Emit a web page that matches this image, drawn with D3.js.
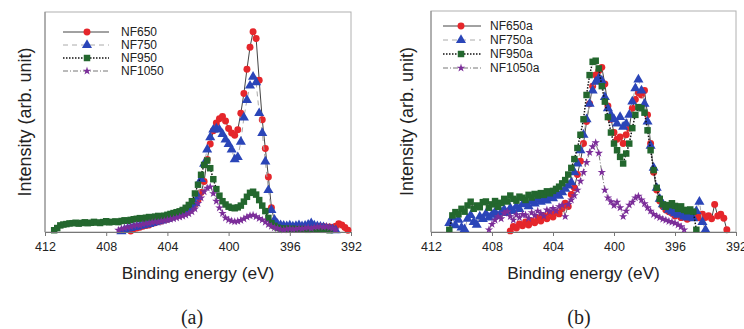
<!DOCTYPE html>
<html>
<head>
<meta charset="utf-8">
<script src="https://cdn.jsdelivr.net/npm/d3@7"></script>
<style>
  body { margin: 0; background: #fff; }
  svg { display: block; }
  text { font-family: "Liberation Sans", Arial, sans-serif; fill: #222; }
</style>
</head>
<body>
<svg id="chart" width="744" height="329"></svg>
<script>
// energy grid step (eV) shared by every series
const STEP = 0.2;
const xTicks = [412, 408, 404, 400, 396, 392];

// panel (a)
const namesA = ['NF650', 'NF750', 'NF950', 'NF1050'];
const startA = [406.4, 407.0, 411.4, 407.2];
const nf650 = [0.5,1.5,1.8,2.2,2.6,3.0,3.2,3.8,4.2,4.8, 5.0,5.6,5.8,6.4,7.0,7.6,8.4,8.8,9.6,10.4,
  11.2,12.5,14.5,18,23,33,40,46,49.5,51.5, 52.5,50.5,47,45,44,46.5,54,63,74,84,
  91,88,69,51,38,25,11,5,3.2,2.6, 2.2,2.4,2.0,2.3,2.6,2.2,2.5,2.1,2.4,2.7,
  2.3,2.6,2.2,2.5,2.0,2.3,2.0,2.6,3.8,3.2, 2.0,0.8];
const nf750 = [0.3,1.0,1.5,1.8,2.2,2.4,2.8,3.0,3.4,3.6, 4.0,4.4,4.8,5.2,5.6,6.0,6.6,7.2,7.8,8.4,
  9.0,9.8,10.6,11.6,13,16,24,31,37.5,43, 46.5,47,46.5,44.5,42,40,37.5,33,34,41,
  52,60,66.5,70.5,68,54,45,32,19,10, 5.5,3.6,3.0,2.8,2.6,2.9,2.5,2.7,3.0,2.6,
  2.8,3.3,3.9,2.9,2.6,2.4,2.1,1.8,1.5,1.2, 0.8];
const nf950 = [0.8,1.8,3.0,3.4,3.6,3.9,4.0,4.2,3.8,4.1, 4.4,4.0,4.2,4.6,4.3,4.1,4.5,4.9,4.4,4.6,
  4.8,4.5,5.0,5.3,5.1,5.5,5.8,6.0,6.3,6.1, 6.5,6.8,6.6,7.0,7.3,7.1,7.4,7.8,8.2,8.6,
  9.0,9.4,10.0,11.0,12.3,14,17.5,21.5,26,30.5, 32.5,29,24,19.5,16.5,14,12.5,11.5,11.0,10.8,
  11.2,12.0,13.8,16,17.8,18.3,17,14.5,12,9.5, 6.4,4.0,2.8,2.0,1.6,1.4,1.6,1.2,1.5,1.3,
  1.1,1.4,1.2,1.0,1.3,1.1,1.4,1.2,1.0,1.2, 0.8];
const nf1050 = [0.8,1.4,1.8,2.2,2.4,2.8,3.2,3.0,3.5,3.8, 4.0,4.3,4.6,4.5,4.9,5.2,5.5,5.8,6.1,6.4,
  6.8,7.2,7.7,8.3,9.2,10.5,13,15.5,18.3,20, 20.5,17.5,14,11,8.5,6.4,5.5,5.0,4.7,4.9,
  5.3,6.0,6.8,7.4,7.7,7.0,6.2,5.5,4.5,3.4, 2.6,2.0,1.6,1.2,1.0,1.3,1.5,1.2,1.4,1.7,
  1.5,1.8,2.0,1.6,2.1,2.3,2.5,2.2,2.4,2.0, 1.6,1.0];

// panel (b)
const namesB = ['NF650a', 'NF750a', 'NF950a', 'NF1050a'];
const startB = [406.8, 410.8, 410.8, 408.2];
const nf650a = [0.5,2.5,1.8,3.6,2.8,4.5,3.2,5.0,4.2,6.5, 5.0,7.2,6.0,8.5,6.8,9.0,8.2,10.5,13,11.5,
  17,20,26,32,40,50,58,66,71,73, 74.5,67,57,51,45,42,43,40,44,47,
  56,60,63,62,64,53,40,27,19,14, 11.5,10,9.2,8.5,7.2,7.8,6.5,7.0,5.8,6.4,
  6.8,7.6,6.4,8.0,6.6,7.4,6.0,12.5,7.2,8.0, 6.2,1.0];
const nf750a = [4.0,6.5,3.0,5.5,2.0,1.2,6.0,7.6,4.5,3.2, 7.0,5.8,8.2,6.5,7.8,9.0,7.2,8.8,10.2,8.6,
  10.8,9.5,11.6,10.4,12.5,13,11.6,14,12.8,14.8, 13.6,15.2,14.2,16,15.2,17,16.4,18,19.5,21,
  22.5,27,31,37,44,51,58,64,68,69.5, 68.5,61,56,53,51,49,52,47.6,49,53,
  59,65,69,64,58,50,39,29,20,15, 12.5,11.4,10,9.2,8.5,7.8,8.6,7.0,6.5,7.8,
  6.2,9.5,13.7,4.5,1.0];
const nf950a = [1.0,7.5,9.0,8.0,10.5,9.2,12.0,13.7,10.5,12.0, 11.2,13.5,13.8,11.0,12.5,14.0,11.4,13.2,15.0,13.8,
  16.5,15.0,14.2,16.0,15.5,14.5,16.8,15.6,17.2,16.5, 17.6,16.8,18.4,17.5,18.6,19.5,20.5,22,23.5,26,
  29,33,38,44,51,62,71,77,77.5,74, 66,59,52,45,40,37,34,31,35.5,40,
  47,53,56.5,56,54,46,37,28,20,15, 12.5,11.4,12.2,13,11.8,10.5,11.6,10,9.4,10.2,
  9.2,1.0];
const nf1050a = [1.0,3.5,5.4,7.0,6.0,8.5,9.2,7.0,5.4,7.8, 6.5,8.0,7.7,6.2,8.8,7.5,9.5,8.4,7.2,10.0,
  9.2,10.7,9.5,11.5,12.2,7.0,12.5,14.5,16.5,19, 23,27,31.5,36,38.6,40.4,35.7,27,19,15.5,
  13.7,12.0,13.5,11.0,7.0,9.5,12.2,13.5,15.5,16.2, 14.5,12.8,11.0,9.5,8.0,7.2,6.5,5.8,5.4,4.8,
  4.5,4.0,3.2,2.4,1.0];

const valuesA = [nf650, nf750, nf950, nf1050];
const valuesB = [nf650a, nf750a, nf950a, nf1050a];

// marker + line style per series position
const styles = [
  { fill: '#e5262b', symbol: d3.symbolCircle, size: 38, stroke: '#444', dash: null, width: 1 },
  { fill: '#2a45b8', symbol: d3.symbolTriangle, size: 44, stroke: '#aaa', dash: '5,4', width: 1 },
  { fill: '#23672e', symbol: d3.symbolSquare, size: 42, stroke: '#111', dash: '1.5,1.5', width: 1.5 },
  { fill: '#7b2d99', symbol: d3.symbolStar, size: 22, stroke: '#777', dash: '5,2,1,2', width: 1 }
];

const svg = d3.select('#chart');

function toPoints(start, vals) {
  return vals.map((v, i) => ({ e: start - i * STEP, v }));
}

function drawPanel(cfg) {
  const x = d3.scaleLinear().domain([412, 392]).range([cfg.left, cfg.right]);
  const y = d3.scaleLinear().domain([0, 100]).range([cfg.bottom, cfg.top]);
  const g = svg.append('g');

  // frame
  g.append('rect')
    .attr('x', cfg.left).attr('y', cfg.top)
    .attr('width', cfg.right - cfg.left).attr('height', cfg.bottom - cfg.top)
    .attr('fill', 'none').attr('stroke', '#b0b0b0').attr('stroke-width', 1);

  // series
  cfg.values.forEach((vals, k) => {
    const st = styles[k];
    const pts = toPoints(cfg.starts[k], vals);
    const line = d3.line().x(d => x(d.e)).y(d => y(d.v));
    g.append('path')
      .datum(pts)
      .attr('fill', 'none')
      .attr('stroke', st.stroke)
      .attr('stroke-width', st.width)
      .attr('stroke-dasharray', st.dash)
      .attr('d', line);
    g.selectAll(null)
      .data(pts)
      .join('path')
      .attr('transform', d => `translate(${x(d.e)},${y(d.v)})`)
      .attr('d', d3.symbol(st.symbol, st.size))
      .attr('fill', st.fill);
  });

  // x axis
  g.append('g')
    .attr('transform', `translate(0,${cfg.bottom})`)
    .call(d3.axisBottom(x).tickValues(xTicks).tickSize(4).tickPadding(6).tickFormat(d3.format('d')))
    .call(a => a.select('.domain').attr('stroke', '#777'))
    .call(a => a.selectAll('line').attr('stroke', '#777'))
    .call(a => a.selectAll('text')
      .attr('font-size', '12.5px')
      .attr('font-family', '"Liberation Sans", Arial, sans-serif')
      .attr('fill', '#222'));

  // left axis line
  g.append('line')
    .attr('x1', cfg.left).attr('x2', cfg.left)
    .attr('y1', cfg.top).attr('y2', cfg.bottom)
    .attr('stroke', '#888');

  // titles
  g.append('text')
    .attr('x', (cfg.left + cfg.right) / 2)
    .attr('y', 279)
    .attr('text-anchor', 'middle')
    .attr('font-size', '17.3px')
    .text('Binding energy (eV)');

  g.append('text')
    .attr('transform', `translate(${cfg.ytitleX},${(cfg.top + cfg.bottom) / 2}) rotate(-90)`)
    .attr('text-anchor', 'middle')
    .attr('dy', '0.35em')
    .attr('font-size', '18px')
    .text('Intensity (arb. unit)');

  g.append('text')
    .attr('x', cfg.labelX)
    .attr('y', 324)
    .attr('text-anchor', 'middle')
    .attr('font-size', '20px')
    .style('font-family', '"Liberation Serif", "Times New Roman", serif')
    .text(cfg.label);

  // legend
  const lg = cfg.legend;
  cfg.names.forEach((name, k) => {
    const st = styles[k];
    const yy = lg.y0 + k * lg.dy;
    g.append('line')
      .attr('x1', lg.x1).attr('x2', lg.x2)
      .attr('y1', yy).attr('y2', yy)
      .attr('stroke', st.stroke)
      .attr('stroke-width', st.width)
      .attr('stroke-dasharray', st.dash);
    g.append('path')
      .attr('transform', `translate(${lg.xm},${yy})`)
      .attr('d', d3.symbol(st.symbol, st.size))
      .attr('fill', st.fill);
    g.append('text')
      .attr('x', lg.xt)
      .attr('y', yy)
      .attr('dy', '0.35em')
      .attr('font-size', '12px')
      .text(name);
  });
}

drawPanel({
  left: 45, right: 351, top: 12, bottom: 232,
  values: valuesA, starts: startA, names: namesA,
  ytitleX: 25, labelX: 192, label: '(a)',
  legend: { x1: 63, x2: 109, xm: 87, xt: 121, y0: 32, dy: 13 }
});

drawPanel({
  left: 431, right: 736, top: 11, bottom: 232,
  values: valuesB, starts: startB, names: namesB,
  ytitleX: 407, labelX: 579, label: '(b)',
  legend: { x1: 443, x2: 481, xm: 461, xt: 490, y0: 26, dy: 14 }
});
</script>
</body>
</html>
